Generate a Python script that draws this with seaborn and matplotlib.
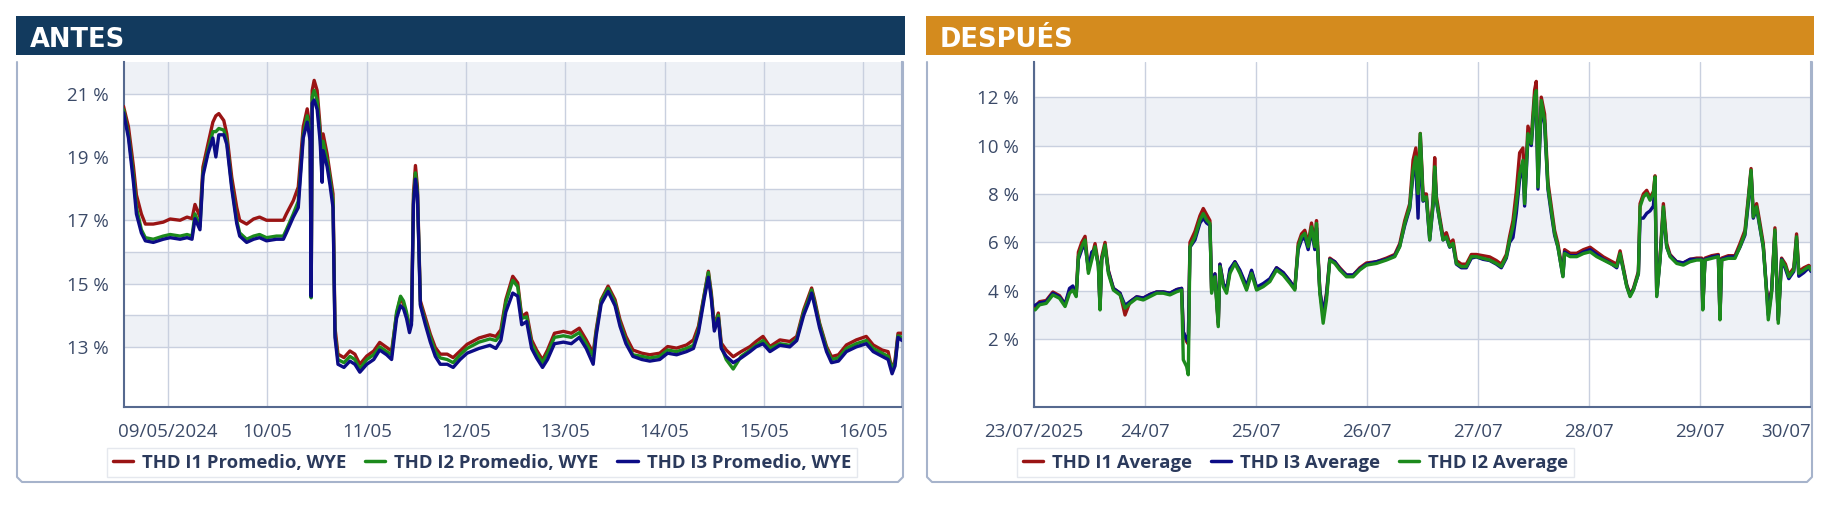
import numpy as np
import pandas as pd
import matplotlib
matplotlib.use("Agg")
import matplotlib.pyplot as plt
from matplotlib.patches import Rectangle
from matplotlib.lines import Line2D
import seaborn as sns

# ---------------- ANTES (mayo 2024), día del mes con fracción ----------------
dias_antes = [
    8.55, 8.60, 8.65, 8.68, 8.73, 8.77, 8.85, 8.95, 9.02, 9.12,
    9.19, 9.24, 9.27, 9.32, 9.35, 9.40, 9.45, 9.48, 9.51, 9.56,
    9.59, 9.64, 9.69, 9.72, 9.79, 9.86, 9.92, 9.99, 10.09, 10.16,
    10.19, 10.26, 10.31, 10.36, 10.40, 10.43, 10.44, 10.45, 10.47, 10.50,
    10.53, 10.55, 10.56, 10.60, 10.63, 10.66, 10.68, 10.71, 10.77, 10.83,
    10.88, 10.93, 11.00, 11.07, 11.13, 11.20, 11.25, 11.30, 11.34, 11.37,
    11.40, 11.43, 11.45, 11.47, 11.49, 11.51, 11.54, 11.59, 11.64, 11.69,
    11.74, 11.81, 11.87, 11.94, 12.01, 12.13, 12.24, 12.30, 12.35, 12.40,
    12.47, 12.52, 12.56, 12.61, 12.66, 12.71, 12.77, 12.82, 12.89, 12.98,
    13.06, 13.14, 13.21, 13.28, 13.31, 13.36, 13.43, 13.50, 13.55, 13.61,
    13.68, 13.77, 13.85, 13.95, 14.03, 14.12, 14.22, 14.29, 14.34, 14.40,
    14.44, 14.47, 14.50, 14.54, 14.57, 14.62, 14.69, 14.77, 14.86, 14.92,
    14.99, 15.06, 15.16, 15.26, 15.33, 15.40, 15.45, 15.48, 15.51, 15.56,
    15.63, 15.68, 15.75, 15.83, 15.93, 16.03, 16.10, 16.19, 16.25, 16.29,
    16.32, 16.35, 16.39]
thd_i1_antes = [
    20.6, 19.95, 18.7, 17.8, 17.2, 16.88, 16.88, 16.94, 17.04, 17.0,
    17.1, 17.05, 17.5, 17.1, 18.68, 19.4, 20.1, 20.3, 20.37, 20.15,
    19.73, 18.36, 17.41, 17.0, 16.88, 17.04, 17.1, 17.0, 17.0, 17.0,
    17.2, 17.62, 18.05, 19.95, 20.52, 19.9, 14.6, 21.1, 21.42, 21.1,
    19.95, 18.6, 19.73, 19.1, 18.47, 17.83, 13.6, 12.77, 12.66, 12.87,
    12.77, 12.45, 12.71, 12.87, 13.14, 12.98, 12.87, 14.03, 14.56, 14.35,
    14.03, 13.6, 13.82, 17.83, 18.73, 18.05, 14.45, 13.92, 13.4, 12.98,
    12.77, 12.77, 12.66, 12.87, 13.08, 13.28, 13.38, 13.33, 13.54, 14.49,
    15.23, 15.02, 13.96, 14.07, 13.22, 12.9, 12.59, 12.9, 13.43, 13.49,
    13.43, 13.59, 13.22, 12.8, 13.54, 14.49, 14.92, 14.49, 13.86, 13.33,
    12.9, 12.8, 12.75, 12.8, 13.01, 12.96, 13.06, 13.22, 13.65, 14.7,
    15.39, 14.7, 13.65, 14.07, 13.12, 12.9, 12.69, 12.85, 13.01, 13.17,
    13.33, 13.01, 13.22, 13.17, 13.33, 14.17, 14.6, 14.86, 14.49, 13.75,
    13.01, 12.69, 12.75, 13.06, 13.22, 13.33, 13.06, 12.9, 12.85, 12.27,
    12.59, 13.43, 13.43]
thd_i2_antes = [
    20.5, 19.7, 18.4, 17.4, 16.7, 16.45, 16.4, 16.5, 16.55, 16.5,
    16.55, 16.5, 17.2, 16.8, 18.5, 19.2, 19.8, 19.8, 19.9, 19.85,
    19.5, 18.1, 17.0, 16.6, 16.4, 16.5, 16.55, 16.45, 16.5, 16.5,
    16.7, 17.2, 17.6, 19.7, 20.3, 19.7, 14.55, 20.9, 21.1, 20.8,
    19.7, 18.4, 19.5, 18.9, 18.3, 17.6, 13.4, 12.6, 12.5, 12.7,
    12.6, 12.3, 12.6, 12.75, 13.0, 12.85, 12.75, 14.1, 14.6, 14.45,
    14.1, 13.55, 13.8, 17.6, 18.5, 17.9, 14.35, 13.8, 13.3, 12.85,
    12.65, 12.6, 12.5, 12.75, 12.95, 13.15, 13.25, 13.2, 13.4, 14.4,
    15.1, 14.9, 13.9, 13.95, 13.1, 12.8, 12.5, 12.8, 13.3, 13.35,
    13.3, 13.45, 13.1, 12.7, 13.45, 14.45, 14.85, 14.4, 13.75, 13.2,
    12.75, 12.7, 12.65, 12.7, 12.9, 12.85, 12.95, 13.05, 13.55, 14.65,
    15.35, 14.6, 13.6, 14.0, 13.0, 12.6, 12.3, 12.7, 12.9, 13.05,
    13.2, 12.95, 13.1, 13.05, 13.25, 14.1, 14.5, 14.8, 14.4, 13.7,
    12.95, 12.6, 12.65, 12.95, 13.1, 13.2, 12.95, 12.8, 12.7, 12.3,
    12.5, 13.35, 13.3]
thd_i3_antes = [
    20.4, 19.6, 18.2, 17.2, 16.6, 16.35, 16.3, 16.4, 16.45, 16.4,
    16.45, 16.4, 17.05, 16.7, 18.4, 19.1, 19.6, 19.0, 19.7, 19.7,
    19.4, 18.0, 16.9, 16.5, 16.3, 16.4, 16.45, 16.35, 16.4, 16.4,
    16.6, 17.1, 17.4, 19.6, 20.1, 19.5, 14.6, 20.7, 20.8, 20.5,
    19.5, 18.2, 19.2, 18.7, 18.1, 17.4, 13.3, 12.45, 12.35, 12.55,
    12.45, 12.2, 12.45, 12.6, 12.9, 12.75, 12.6, 13.9, 14.3, 14.2,
    13.9, 13.45, 13.7, 17.5, 18.3, 17.8, 14.3, 13.7, 13.15, 12.7,
    12.45, 12.45, 12.35, 12.6, 12.8, 12.95, 13.05, 12.95, 13.2, 14.1,
    14.7, 14.6, 13.7, 13.8, 12.95, 12.65, 12.35, 12.6, 13.1, 13.15,
    13.1, 13.3, 12.95, 12.45, 13.35, 14.35, 14.75, 14.3, 13.65, 13.1,
    12.7, 12.6, 12.55, 12.6, 12.8, 12.75, 12.85, 12.95, 13.45, 14.55,
    15.2, 14.5, 13.5, 13.9, 12.95, 12.7, 12.5, 12.65, 12.85, 13.0,
    13.1, 12.85, 13.05, 13.0, 13.2, 14.0, 14.4, 14.7, 14.3, 13.6,
    12.85, 12.5, 12.55, 12.85, 13.0, 13.1, 12.85, 12.7, 12.6, 12.15,
    12.4, 13.3, 13.2]

# ---------------- DESPUÉS (julio 2025) ----------------
dias_despues = [
    23.01, 23.05, 23.11, 23.17, 23.23, 23.28, 23.32, 23.35, 23.38, 23.40,
    23.43, 23.46, 23.49, 23.52, 23.55, 23.58, 23.595, 23.61, 23.64, 23.67,
    23.715, 23.775, 23.82, 23.865, 23.925, 23.985, 24.045, 24.105, 24.165, 24.225,
    24.285, 24.33, 24.345, 24.375, 24.39, 24.405, 24.45, 24.495, 24.525, 24.555,
    24.585, 24.60, 24.63, 24.66, 24.675, 24.705, 24.735, 24.765, 24.81, 24.855,
    24.915, 24.96, 25.005, 25.065, 25.125, 25.185, 25.245, 25.305, 25.35, 25.38,
    25.41, 25.44, 25.47, 25.50, 25.53, 25.545, 25.56, 25.575, 25.605, 25.635,
    25.665, 25.71, 25.755, 25.815, 25.875, 25.935, 25.995, 26.085, 26.175, 26.25,
    26.295, 26.34, 26.385, 26.415, 26.44, 26.46, 26.48, 26.505, 26.535, 26.565,
    26.595, 26.61, 26.625, 26.655, 26.685, 26.715, 26.745, 26.775, 26.805, 26.85,
    26.895, 26.94, 26.985, 27.045, 27.105, 27.165, 27.21, 27.255, 27.285, 27.315,
    27.345, 27.375, 27.405, 27.42, 27.45, 27.48, 27.51, 27.525, 27.54, 27.57,
    27.60, 27.63, 27.66, 27.69, 27.72, 27.765, 27.78, 27.83, 27.89, 27.95,
    28.01, 28.07, 28.13, 28.19, 28.25, 28.28, 28.31, 28.34, 28.37, 28.40,
    28.445, 28.46, 28.49, 28.52, 28.55, 28.58, 28.595, 28.61, 28.64, 28.67,
    28.70, 28.73, 28.79, 28.85, 28.91, 28.97, 29.015, 29.025, 29.045, 29.105,
    29.165, 29.18, 29.195, 29.255, 29.315, 29.36, 29.405, 29.435, 29.46, 29.48,
    29.51, 29.54, 29.57, 29.60, 29.615, 29.645, 29.675, 29.705, 29.735, 29.77,
    29.80, 29.845, 29.87, 29.89, 29.935, 29.98, 30.00]
thd_i1_despues = [
    3.35, 3.55, 3.6, 3.95, 3.8, 3.45, 4.0, 4.15, 3.85, 5.6,
    6.0, 6.25, 4.85, 5.4, 5.95, 5.1, 3.3, 5.4, 6.0, 4.85,
    4.1, 3.9, 3.0, 3.55, 3.75, 3.7, 3.85, 3.95, 3.95, 3.9,
    4.05, 4.1, 2.3, 1.9, 1.8, 6.0, 6.45, 7.1, 7.4, 7.15,
    6.9, 4.0, 4.7, 2.6, 5.1, 4.3, 4.0, 4.8, 5.2, 4.8,
    4.1, 4.8, 4.1, 4.25, 4.45, 4.95, 4.75, 4.4, 4.1, 5.95,
    6.35, 6.5, 5.95, 6.8, 5.95, 6.9, 5.4, 4.0, 3.0, 3.9,
    5.35, 5.2, 4.95, 4.65, 4.65, 4.95, 5.15, 5.2, 5.35, 5.5,
    5.95, 6.9, 7.6, 9.4, 9.9, 8.3, 10.5, 8.0, 8.0, 6.25,
    7.75, 9.5, 7.9, 7.05, 6.25, 6.4, 5.95, 6.1, 5.25, 5.1,
    5.1, 5.5, 5.5, 5.45, 5.4, 5.25, 5.1, 5.5, 6.25, 6.9,
    8.1, 9.7, 9.9, 8.0, 10.8, 10.3, 12.3, 12.65, 8.6, 12.0,
    11.3, 8.5, 7.5, 6.5, 5.95, 4.7, 5.7, 5.55, 5.55, 5.7,
    5.8, 5.6, 5.4, 5.25, 5.1, 5.65, 4.95, 4.25, 3.85, 4.1,
    4.8, 7.6, 8.0, 8.15, 7.85, 8.1, 8.75, 3.9, 5.4, 7.6,
    5.95, 5.5, 5.2, 5.15, 5.3, 5.35, 5.35, 3.3, 5.35, 5.45,
    5.5, 2.9, 5.35, 5.45, 5.45, 5.95, 6.5, 7.85, 9.05, 7.2,
    7.6, 6.8, 5.95, 4.0, 3.6, 4.0, 6.6, 2.8, 5.35, 5.1,
    4.65, 4.95, 6.35, 4.8, 4.95, 5.05, 4.95]
thd_i2_despues = [
    3.21, 3.42, 3.48, 3.83, 3.69, 3.35, 3.90, 4.03, 3.76, 5.41,
    5.82, 6.10, 4.72, 5.27, 5.82, 5.00, 3.21, 5.27, 5.89, 4.72,
    4.03, 3.83, 3.28, 3.48, 3.69, 3.62, 3.76, 3.90, 3.90, 3.83,
    3.96, 4.03, 1.15, 0.87, 0.53, 5.82, 6.23, 6.92, 7.19, 6.92,
    6.78, 3.90, 4.58, 2.52, 5.00, 4.17, 3.90, 4.72, 5.13, 4.72,
    4.03, 4.72, 4.03, 4.17, 4.38, 4.86, 4.65, 4.31, 4.03, 5.82,
    6.23, 6.37, 5.82, 6.64, 5.82, 6.78, 5.27, 3.90, 2.66, 3.62,
    5.27, 5.13, 4.86, 4.58, 4.58, 4.86, 5.06, 5.13, 5.27, 5.41,
    5.82, 6.78, 7.47, 8.98, 9.53, 8.02, 10.49, 7.74, 7.88, 6.10,
    7.60, 9.12, 7.74, 6.92, 6.10, 6.23, 5.82, 5.96, 5.13, 5.00,
    5.00, 5.41, 5.41, 5.34, 5.27, 5.13, 5.00, 5.41, 6.10, 6.64,
    7.60, 8.84, 9.39, 7.60, 10.49, 10.08, 12.00, 12.27, 8.29, 11.86,
    11.04, 8.29, 7.33, 6.37, 5.82, 4.58, 5.54, 5.41, 5.41, 5.54,
    5.61, 5.41, 5.27, 5.13, 5.00, 5.54, 4.86, 4.17, 3.76, 4.03,
    4.72, 7.47, 7.88, 8.02, 7.74, 8.02, 8.70, 3.76, 5.27, 7.47,
    5.82, 5.41, 5.13, 5.06, 5.20, 5.27, 5.27, 3.21, 5.27, 5.34,
    5.41, 2.80, 5.27, 5.34, 5.34, 5.82, 6.37, 7.74, 8.98, 7.05,
    7.47, 6.64, 5.82, 3.90, 2.80, 3.90, 6.51, 2.66, 5.27, 5.00,
    4.58, 4.86, 6.23, 4.72, 4.86, 5.00, 4.86]
thd_i3_despues = [
    3.4, 3.5, 3.55, 3.9, 3.75, 3.45, 4.1, 4.2, 3.8, 5.3,
    5.7, 5.9, 4.9, 5.6, 5.7, 5.1, 3.3, 5.3, 5.8, 4.8,
    4.1, 3.9, 3.4, 3.55, 3.75, 3.7, 3.85, 3.95, 3.95, 3.9,
    4.05, 4.1, 2.3, 2.0, 1.9, 5.8, 6.1, 6.8, 7.0, 6.8,
    6.7, 4.1, 4.7, 2.7, 5.1, 4.3, 4.05, 4.9, 5.2, 4.85,
    4.2, 4.85, 4.15, 4.3, 4.5, 4.95, 4.75, 4.4, 4.1, 5.7,
    6.1, 6.2, 5.7, 6.5, 5.7, 6.6, 5.3, 4.0, 3.1, 3.8,
    5.3, 5.2, 4.9, 4.65, 4.65, 4.9, 5.1, 5.2, 5.3, 5.45,
    5.85, 6.7, 7.4, 8.8, 9.2, 7.0, 10.2, 7.7, 7.8, 6.1,
    7.5, 9.0, 7.7, 6.9, 6.1, 6.2, 5.8, 5.9, 5.1, 4.95,
    4.95, 5.35, 5.4, 5.3, 5.25, 5.1, 4.95, 5.35, 6.0, 6.2,
    7.2, 8.6, 9.2, 7.5, 10.3, 10.0, 11.8, 12.1, 8.2, 11.6,
    10.9, 8.2, 7.2, 6.3, 5.8, 4.6, 5.6, 5.45, 5.45, 5.6,
    5.7, 5.5, 5.3, 5.15, 4.95, 5.5, 4.85, 4.2, 3.8, 4.05,
    4.7, 7.0, 7.0, 7.2, 7.3, 7.5, 8.5, 3.8, 5.3, 7.3,
    5.8, 5.45, 5.2, 5.15, 5.3, 5.3, 5.3, 3.3, 5.3, 5.4,
    5.45, 2.9, 5.3, 5.4, 5.4, 5.8, 6.3, 7.6, 8.9, 7.0,
    7.4, 6.6, 5.8, 4.0, 3.0, 4.0, 6.4, 2.8, 5.3, 4.9,
    4.5, 4.8, 6.1, 4.6, 4.75, 4.95, 4.8]

series_antes = ['THD I1 Promedio, WYE', 'THD I2 Promedio, WYE', 'THD I3 Promedio, WYE']
series_despues = ['THD I1 Average', 'THD I3 Average', 'THD I2 Average']
etiquetas_antes = ['09/05/2024', '10/05', '11/05', '12/05', '13/05', '14/05', '15/05', '16/05']
etiquetas_despues = ['23/07/2025', '24/07', '25/07', '26/07', '27/07', '28/07', '29/07', '30/07']

ROJO, VERDE, AZUL = '#9a1414', '#1c8a1c', '#0c0c86'

sns.set_style("white")
plt.rcParams['font.family'] = ['Open Sans', 'DejaVu Sans']

W, H = 1830, 508
fig = plt.figure(figsize=(W / 100, H / 100), dpi=100)


def fx(px):
    return px / W


def fy(py):
    return 1 - py / H


def fecha(mes0, dias):
    return mes0 + pd.to_timedelta(np.array(dias) - 1, unit='D')


def armar(mes0, dias, nombres, valores):
    partes = []
    for n, v in zip(nombres, valores):
        partes.append(pd.DataFrame({'fecha': fecha(mes0, dias), 'serie': n, 'thd': v}))
    return pd.concat(partes, ignore_index=True)


may = pd.Timestamp('2024-05-01')
jul = pd.Timestamp('2025-07-01')
df_antes = armar(may, dias_antes, series_antes, [thd_i1_antes, thd_i2_antes, thd_i3_antes])
df_desp = armar(jul, dias_despues, series_despues, [thd_i1_despues, thd_i3_despues, thd_i2_despues])

BORDE = '#a6b3cb'
EJE = '#56698f'
TXT = '#3b4a68'


def panel(x0, x1, ax_x0, ax_x1, titulo, color_tit, df, orden, colores, ylim, yt, ylab, bandas,
          mes0, dias_tick, etiquetas, xlim, leg_x0):
    # cabecera
    fig.add_artist(Rectangle((fx(x0 - 1), fy(55)), fx(x1 + 2) - fx(x0 - 1), fy(16) - fy(55),
                             transform=fig.transFigure, facecolor=color_tit, edgecolor='none'))
    fig.text(fx(x0 + 13), fy(46.8), titulo, color='white', fontsize=18.5, fontweight='bold',
             family='DejaVu Sans', va='baseline', ha='left')
    # marco
    r = 5
    xs = [fx(x0), fx(x0), fx(x0 + r), fx(x1 - r), fx(x1), fx(x1)]
    ys = [fy(62), fy(482 - r), fy(482), fy(482), fy(482 - r), fy(62)]
    fig.add_artist(Line2D(xs, ys, transform=fig.transFigure, color=BORDE, lw=1.5))

    ax = fig.add_axes([fx(ax_x0), fy(407), fx(ax_x1) - fx(ax_x0), fy(62) - fy(407)])
    for lo, hi in bandas:
        ax.axhspan(lo, hi, color='#eef1f6', zorder=0.1, lw=0)
    sns.lineplot(data=df, x='fecha', y='thd', hue='serie', hue_order=orden, palette=colores,
                 estimator=None, sort=False, lw=2.4, legend=False, ax=ax, zorder=3)
    ax.set_xlim(fecha(mes0, xlim))
    ax.set_ylim(*ylim)
    ax.set_yticks(yt)
    ax.set_yticklabels(ylab)
    ax.set_xticks(fecha(mes0, dias_tick))
    ax.set_xticklabels(etiquetas)
    ax.set_xlabel('')
    ax.set_ylabel('')
    ax.grid(True, color='#c9d0df', lw=1.0)
    ax.set_axisbelow(True)
    ax.spines['top'].set_visible(False)
    ax.spines['right'].set_color(BORDE)
    ax.spines['right'].set_linewidth(1.5)
    for s in ['left', 'bottom']:
        ax.spines[s].set_color(EJE)
        ax.spines[s].set_linewidth(1.5)
    ax.tick_params(axis='both', length=6, width=1.2, color=EJE, labelcolor=TXT, labelsize=13.5)
    ax.tick_params(axis='y', pad=5)
    ax.tick_params(axis='x', pad=5.5)

    handles = [Line2D([], [], color=colores[n], lw=2.5) for n in orden]
    ax.legend(handles, orden, loc='upper left', bbox_to_anchor=(fx(leg_x0), fy(448)),
              bbox_transform=fig.transFigure, ncol=3, frameon=True, fancybox=False,
              edgecolor='#dfe3ea', borderaxespad=0, borderpad=0.3, handlelength=1.1,
              handletextpad=0.5, columnspacing=1.0,
              prop={'family': ['Open Sans', 'DejaVu Sans'], 'weight': 'bold', 'size': 13.3},
              labelcolor='#2b3a5c')
    return ax


ax1 = panel(17, 903, 124, 902, 'ANTES', '#123a5e', df_antes, series_antes,
            dict(zip(series_antes, [ROJO, VERDE, AZUL])),
            (11.1, 22.0), list(range(13, 22)),
            [f'{v} %' if v % 2 else '' for v in range(13, 22)],
            [(21, 22.5), (19, 20), (17, 18), (15, 16), (13, 14)],
            may, list(range(9, 17)), etiquetas_antes, [8.555, 16.39], 107)

ax2 = panel(927, 1812, 1034, 1811, 'DESPUÉS', '#d48b1e', df_desp, series_despues,
            dict(zip(series_despues, [ROJO, AZUL, VERDE])),
            (-0.8, 13.45), list(range(2, 13, 2)),
            [f'{v} %' for v in range(2, 13, 2)],
            [(10, 12), (6, 8), (2, 4)],
            jul, list(range(23, 31)), etiquetas_despues, [23.0, 30.0], 1017)
ax2.get_xticklabels()[-1].set_ha('right')

fig.savefig('out.png', dpi=100)
